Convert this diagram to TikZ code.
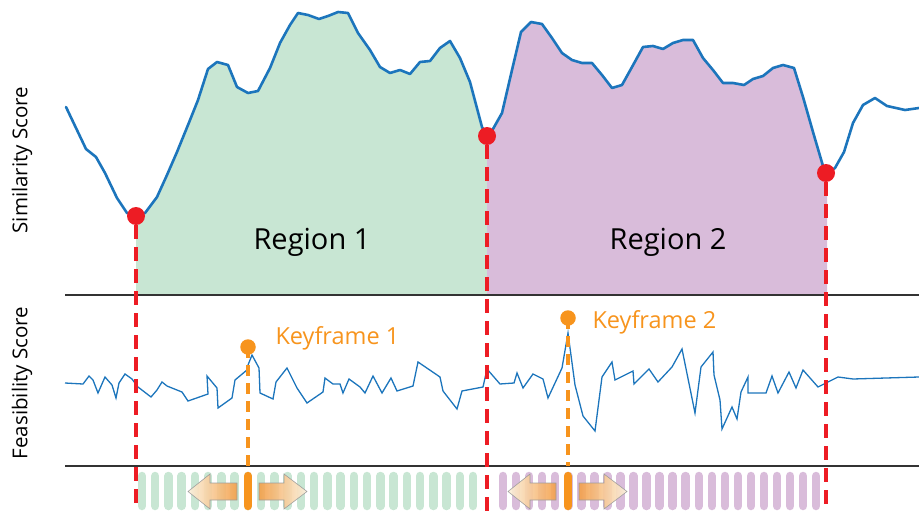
\documentclass[tikz,border=0pt]{standalone}
\usepackage{fontspec}
\setmainfont{Open Sans}
\definecolor{simblue}{HTML}{1C75BC}
\definecolor{regA}{HTML}{C8E6D3}
\definecolor{regB}{HTML}{D9BCDA}
\definecolor{mkred}{HTML}{ED1C24}
\definecolor{kforange}{HTML}{F7941D}
\definecolor{arrowtip}{HTML}{FBF1DE}
\definecolor{arrowend}{HTML}{F4A04A}
\definecolor{axisgray}{HTML}{333333}
\tikzset{
  simline/.style={simblue, line width=2.6pt, line join=round, line cap=round},
  feasline/.style={simblue, line width=1.3pt, line join=miter},
  axisline/.style={axisgray, line width=2pt},
  redpt/.style={circle, fill=mkred, inner sep=0pt, minimum size=18pt},
  kfpt/.style={circle, fill=kforange, inner sep=0pt, minimum size=15.5pt},
  reddash/.style={mkred, line width=4.6pt, dash pattern=on 14pt off 8pt},
  kfdash/.style={kforange, line width=3.6pt, dash pattern=on 11pt off 7pt},
  barA/.style={regA, line width=8.5pt, line cap=round},
  barB/.style={regB, line width=8.5pt, line cap=round},
  barK/.style={kforange, line width=8.5pt, line cap=round},
  shiftarrow/.style={draw=gray!80, line width=0.6pt, opacity=0.92},
  regionlabel/.style={font=\fontsize{29}{32}\selectfont, text=black},
  kflabel/.style={font=\fontsize{23.5}{26}\selectfont, text=kforange, anchor=west},
  axislabel/.style={font=\fontsize{20.5}{23}\selectfont, rotate=90, text=black}
}
\def\lftpart{(66,107) -- (86,149) -- (96,157) -- (105,173) -- (117,198) -- (127,213) -- (136,216)}
\def\regApart{(136,216) -- (145,213) -- (157,197) -- (167,175) -- (177,152) -- (188,125) -- (198,100) -- (208,69) -- (217,62) -- (228,65) -- (237,87) -- (248,93) -- (258,91) -- (270,68) -- (280,43) -- (290,25) -- (298,13) -- (308,15) -- (319,19) -- (328,16) -- (338,12) -- (348,13) -- (358,33) -- (370,50) -- (380,67) -- (390,73) -- (400,70) -- (410,74) -- (420,62) -- (430,61) -- (440,48) -- (450,41) -- (460,58) -- (470,82) -- (482,127) -- (487,136)}
\def\regBpart{(487,136) -- (493,129) -- (502,113) -- (512,70) -- (521,32) -- (531,22) -- (542,24) -- (552,38) -- (562,53) -- (572,60) -- (582,63) -- (592,63) -- (602,75) -- (612,88) -- (622,85) -- (632,67) -- (643,47) -- (653,46) -- (663,49) -- (673,43) -- (683,40) -- (693,40) -- (703,58) -- (713,70) -- (723,83) -- (733,83) -- (744,85) -- (753,79) -- (763,76) -- (773,68) -- (783,65) -- (794,68) -- (803,97) -- (813,132) -- (823,166) -- (827,173)}
\def\rgtpart{(827,173) -- (835,168) -- (844,152) -- (853,123) -- (863,105) -- (875,98) -- (887,106) -- (905,110) -- (919,108)}
\begin{document}
\begin{tikzpicture}[x=1pt, y=-1pt]
\useasboundingbox (0,0) rectangle (919,511);
% region fills
\fill[regA] \regApart -- (487,295) -- (136,295) -- cycle;
\fill[regB] \regBpart -- (827,295) -- (487,295) -- cycle;
% similarity curve
\draw[simline] \lftpart;
\draw[simline] \regApart;
\draw[simline] \regBpart;
\draw[simline] \rgtpart;
% region labels
\node[regionlabel] (r1) at (312,242) {Region 1};
\node[regionlabel] (r2) at (668,242) {Region 2};
% frame bars
\foreach \i in {0,...,25} {\draw[barA] ({142+13.24*\i},476) -- ({142+13.24*\i},506);}
\foreach \i in {0,...,24} {\draw[barB] ({503+13.05*\i},476) -- ({503+13.05*\i},506);}
% feasibility curve
\draw[feasline] (65,383) -- (83,384) -- (89,376) -- (93,380) -- (98,393) -- (105,377) -- (112,385) -- (116,398) -- (119,383) -- (125,374) -- (132,379) -- (138,387) -- (151,397) -- (157,390) -- (162,382) -- (167,386) -- (182,392) -- (188,401) -- (208,394) -- (207,376) -- (217,388) -- (218,408) -- (232,398) -- (235,380) -- (247,370) -- (248,365) -- (252,355) -- (259,368) -- (260,393) -- (273,399) -- (276,382) -- (287,368) -- (297,388) -- (307,403) -- (323,392) -- (325,378) -- (333,384) -- (340,384) -- (343,393) -- (349,379) -- (360,387) -- (365,393) -- (373,376) -- (382,393) -- (391,378) -- (397,391) -- (413,386) -- (418,362) -- (440,377) -- (443,391) -- (457,409) -- (462,391) -- (483,387) -- (487,369) -- (500,384) -- (514,383) -- (517,373) -- (523,388) -- (533,374) -- (543,379) -- (548,398) -- (562,368) -- (568,333) -- (575,385) -- (583,416) -- (595,431) -- (602,377) -- (612,362) -- (615,380) -- (633,371) -- (634,384) -- (649,369) -- (658,382) -- (672,367) -- (682,349) -- (695,413) -- (701,367) -- (713,352) -- (714,375) -- (720,400) -- (722,429) -- (732,407) -- (737,419) -- (741,392) -- (748,377) -- (748,393) -- (766,393) -- (772,376) -- (778,393) -- (789,372) -- (796,388) -- (803,370) -- (818,387) -- (826,383) -- (838,377) -- (853,379) -- (919,377);
% axis separators
\coordinate (l1a) at (65,295); \coordinate (l1b) at (919,295);
\coordinate (l2a) at (65,466); \coordinate (l2b) at (919,466);
\draw[axisline] (l1a) -- (l1b);
\draw[axisline] (l2a) -- (l2b);
% keyframes
\node[kfpt] (k1) at (248,347) {};
\node[kfpt] (k2) at (568,318) {};
\coordinate (k1b) at (248,466);
\coordinate (k2b) at (568,466);
\draw[kfdash] (k1.center) -- (k1b);
\draw[kfdash] (k2.center) -- (k2b);
\draw[barK] (248,476) -- (248,506);
\draw[barK] (568,476) -- (568,506);
\node[kflabel] (k1t) at (272,338) {Keyframe 1};
\node[kflabel] (k2t) at (589,322) {Keyframe 2};
% shift arrows
\draw[shiftarrow, left color=arrowtip, right color=arrowend] (188,491.5) -- (210,474) -- (210,483) -- (237,483) -- (237,500) -- (210,500) -- (210,509) -- cycle;
\draw[shiftarrow, left color=arrowend, right color=arrowtip] (307,491.5) -- (284,474) -- (284,483) -- (259,483) -- (259,500) -- (284,500) -- (284,509) -- cycle;
\draw[shiftarrow, left color=arrowtip, right color=arrowend] (508,491.5) -- (530,474) -- (530,483) -- (556,483) -- (556,500) -- (530,500) -- (530,509) -- cycle;
\draw[shiftarrow, left color=arrowend, right color=arrowtip] (627,491.5) -- (604,474) -- (604,483) -- (579,483) -- (579,500) -- (604,500) -- (604,509) -- cycle;
% region boundaries
\coordinate (m1b) at (136,511);
\coordinate (m2b) at (487,511);
\coordinate (m3b) at (826,511);
\node[redpt] (m1) at (136,216) {};
\node[redpt] (m2) at (487,136) {};
\node[redpt] (m3) at (826,173) {};
\draw[reddash] (m1.south) -- (m1b);
\draw[reddash] (m2.south) -- (m2b);
\draw[reddash] (m3.south) -- (m3b);
% axis labels
\node[axislabel] (ys) at (22,160) {Similarity Score};
\node[axislabel] (yf) at (22,383) {Feasibility Score};
\end{tikzpicture}
\end{document}
